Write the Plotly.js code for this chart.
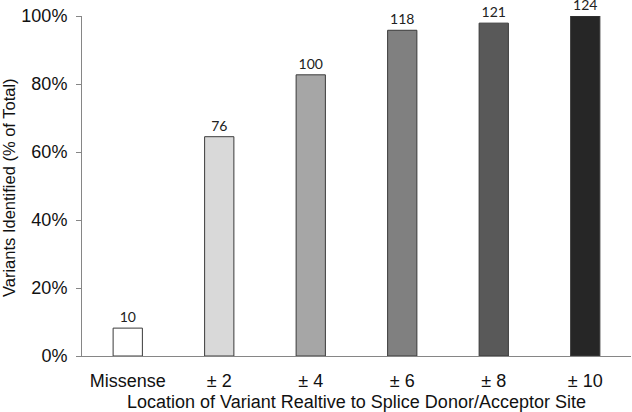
<!DOCTYPE html>
<html>
<head>
<meta charset="utf-8">
<script src="https://cdn.plot.ly/plotly-3.0.1.min.js"></script>
<style>
  html, body { margin: 0; padding: 0; background: #fff; }
  #chart { width: 632px; height: 412px; }
</style>
</head>
<body>
<div id="chart"></div>
<script>
// categories along the x axis
const locations = ["Missense", "\u00b1 2", "\u00b1 4", "\u00b1 6", "\u00b1 8", "\u00b1 10"];
// percent of total identified
const pct_identified = [8.2, 64.5, 82.7, 95.8, 97.9, 100];
// counts printed above bars
const variant_counts = [10, 76, 100, 118, 121, 124];
// grey ramp per bar
const bar_fills = ["#ffffff", "#d9d9d9", "#a6a6a6", "#808080", "#595959", "#262626"];

const tick_font = { family: "Liberation Sans, Arial, sans-serif", size: 18, color: "#111" };

let trace = {
  type: "bar",
  x: locations,
  y: pct_identified,
  width: 0.32,
  marker: {
    color: bar_fills,
    line: { color: "#3a3a3a", width: 1 }
  },
  text: variant_counts.map(String),
  textposition: "outside",
  constraintext: "none",
  cliponaxis: false,
  textfont: { family: "Lato, Open Sans, sans-serif", size: 14, color: "#222" },
  hoverinfo: "none"
};

let layout = {
  width: 632,
  height: 412,
  margin: { l: 82, r: 1, t: 16, b: 56 },
  paper_bgcolor: "#fff",
  plot_bgcolor: "#fff",
  showlegend: false,
  xaxis: {
    range: [-0.5, 5.5],
    showline: true,
    linecolor: "#868686",
    linewidth: 1,
    ticks: "",
    ticklabelstandoff: 8,
    tickfont: tick_font,
    title: {
      text: "Location of Variant Realtive to Splice Donor/Acceptor Site",
      font: tick_font,
      standoff: 5
    },
    automargin: false
  },
  yaxis: {
    range: [0, 100],
    tickvals: [0, 20, 40, 60, 80, 100],
    ticktext: ["0%", "20%", "40%", "60%", "80%", "100%"],
    showgrid: false,
    zeroline: false,
    showline: true,
    linecolor: "#868686",
    linewidth: 1,
    ticks: "outside",
    ticklen: 5,
    tickcolor: "#868686",
    ticklabelstandoff: 5,
    tickfont: tick_font,
    automargin: false
  },
  // y title placed as a rotated annotation so it sits where the reference has it
  annotations: [{
    text: "Variants Identified (% of Total)",
    textangle: -90,
    xref: "paper", yref: "paper",
    x: 0, y: 0.5,
    xanchor: "center", yanchor: "middle",
    xshift: -73, yshift: -2,
    showarrow: false,
    font: { family: "Liberation Sans, Arial, sans-serif", size: 16.5, color: "#111" }
  }]
};

Plotly.newPlot("chart", [trace], layout, { staticPlot: true });
</script>
</body>
</html>
